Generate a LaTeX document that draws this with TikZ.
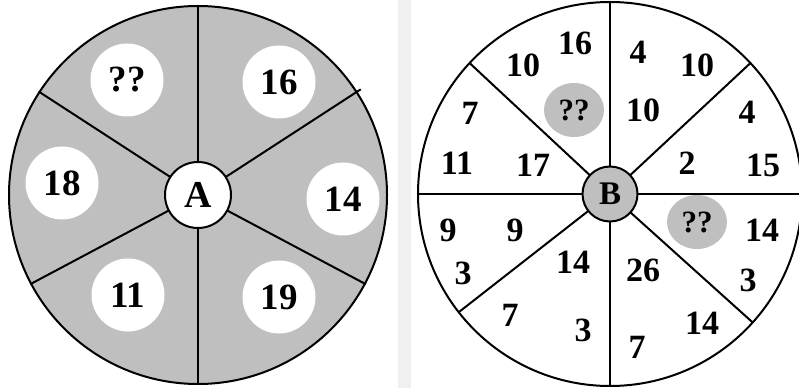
\documentclass[tikz,border=0pt]{standalone}
\usepackage{fontspec}
\setmainfont{Liberation Serif}
\usetikzlibrary{shapes.geometric}
\begin{document}
\begin{tikzpicture}[x=1pt,y=1pt,line width=2pt,
  num/.style={inner sep=0pt,font=\fontsize{34}{34}\selectfont\bfseries},
  hole/.style={circle,fill=white,minimum size=73pt,inner sep=0pt,
    font=\fontsize{37}{37}\selectfont\bfseries},
  blob/.style={ellipse,fill=black!25,minimum width=60pt,minimum height=54pt,
    inner sep=0pt,font=\fontsize{31}{31}\selectfont\bfseries}]
  \useasboundingbox (0,0) rectangle (799,388);
  \fill[black!6] (0,0) rectangle (799,388);
  \fill[white] (0,0) rectangle (398,388);
  \fill[white] (411,0) rectangle (799,388);
  % wheel A
  \coordinate (ca) at (198,193);
  \fill[black!25] (ca) circle (189);
  \foreach \a/\r in {33/194,90/190,147/190,208/190,270/190,332/190}
    \draw (ca) -- ++(\a:\r);
  \draw (ca) circle (189);
  \node[circle,draw,fill=white,minimum size=66pt,inner sep=0pt,
        font=\fontsize{38}{38}\selectfont\bfseries] (A) at (ca) {A};
  \foreach \x/\y/\t [count=\i] in {127/308/??,279/306/16,62/205/18,
      343/189/14,128/93/11,279/91/19}
    \node[hole] (a\i) at (\x,\y) {\t};
  % wheel B
  \coordinate (cb) at (610,194);
  \foreach \a in {0,43,90,137,180,218,270,318}
    \draw (cb) -- ++(\a:192);
  \draw (cb) circle (192);
  \node[circle,draw,fill=black!25,minimum size=55pt,inner sep=0pt,
        font=\fontsize{33}{33}\selectfont\bfseries] (B) at (cb) {B};
  \node[blob] (q1) at (574,278) {??};
  \node[blob] (q2) at (697,166) {??};
  \foreach \x/\y/\t [count=\i] in {575/345/16,523/323/10,638/336/4,
      697/323/10,643/278/10,747/276/4,470/275/7,457/225/11,533/223/17,
      687/225/2,763/223/15,448/158/9,515/158/9,463/115/3,573/126/14,
      643/118/26,762/158/14,748/108/3,510/73/7,583/58/3,637/41/7,702/65/14}
    \node[num] (b\i) at (\x,\y) {\t};
\end{tikzpicture}
\end{document}
